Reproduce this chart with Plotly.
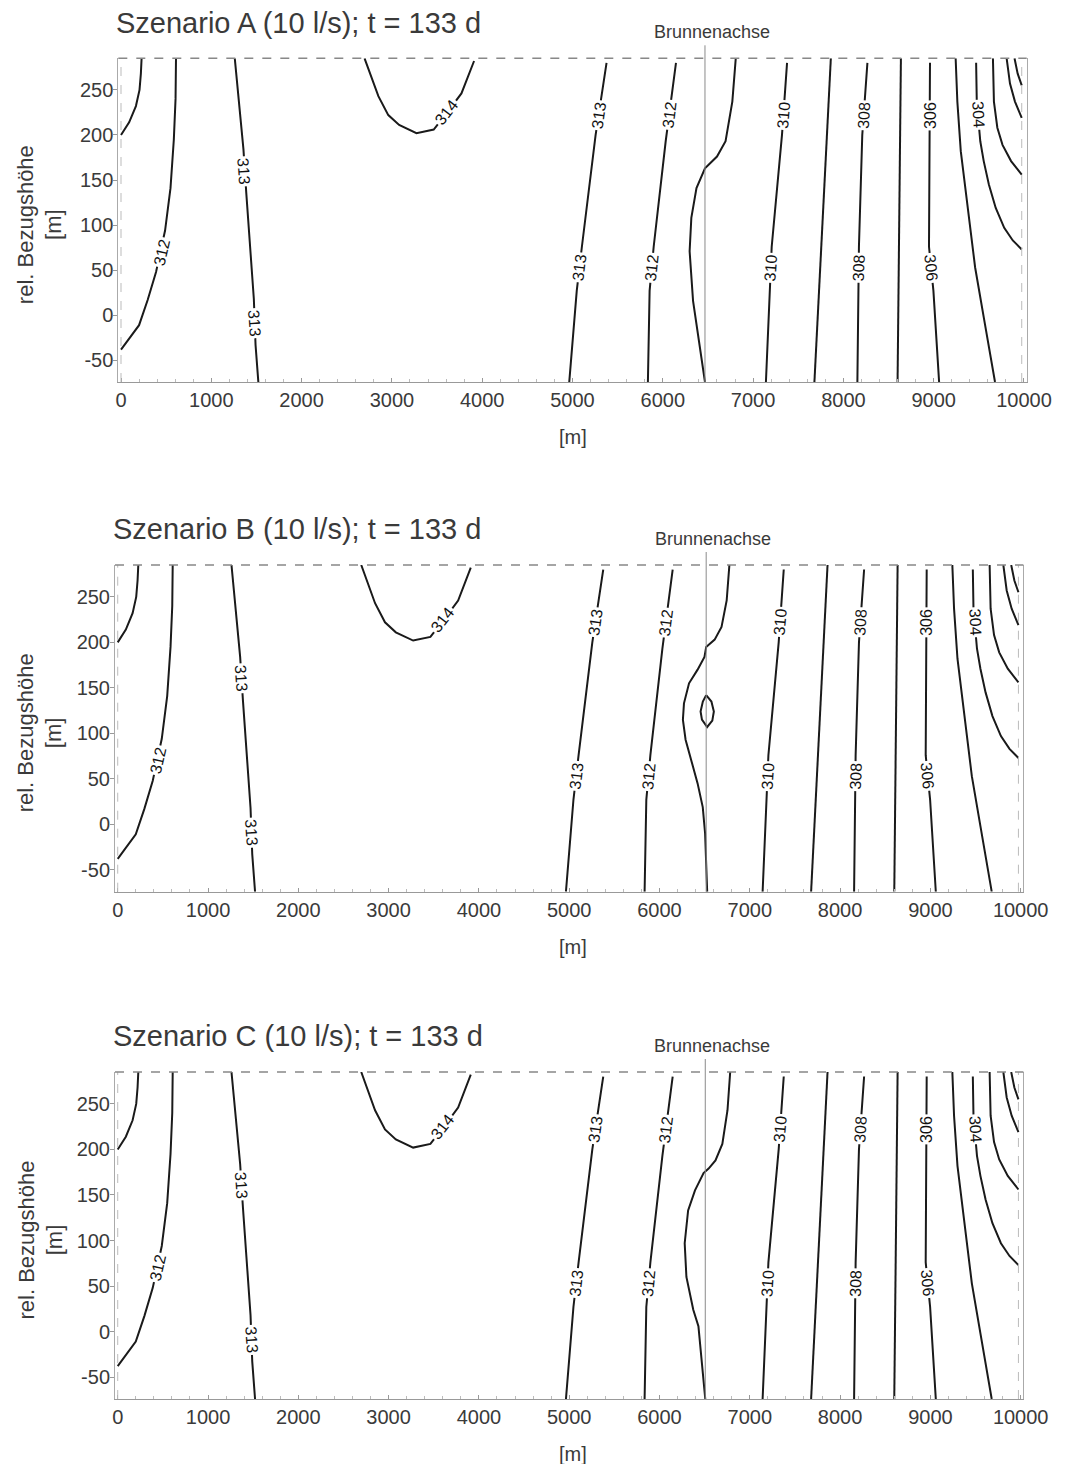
import plotly.graph_objects as go

# page offset (default body margin of the html page)
OFF = 8
W, H = 1067 - OFF, 1464 - OFF

# ---------------- data ----------------
PANEL_TITLES = ["Szenario A (10 l/s); t = 133 d",
                "Szenario B (10 l/s); t = 133 d",
                "Szenario C (10 l/s); t = 133 d"]
X_TICKS = [0, 1000, 2000, 3000, 4000, 5000, 6000, 7000, 8000, 9000, 10000]
X_TICK_TEXT = ["0", "1000", "2000", "3000", "4000", "5000", "6000", "7000", "8000", "9000", "10000"]
Y_TICKS = [-50, 0, 50, 100, 150, 200, 250]
Y_TICK_TEXT = ["-50", "0", "50", "100", "150", "200", "250"]
X_RANGE = [-30, 10030]
Y_RANGE = [-74, 285]
DOMAIN_X = [0, 9975]          # model domain boundaries (dashed)
WELL_X = [6467, 6517, 6507]   # "Brunnenachse" per scenario

# contour lines common to all three scenarios (x [m], y [m])
C311L_X = [0, 90, 165, 205, 220, 228]
C311L_Y = [200, 214, 232, 250, 268, 285]
C312L_X = [0, 200, 295, 388, 488, 548, 585, 604, 609]
C312L_Y = [-38, -11, 17, 48, 94, 141, 195, 240, 285]
C313L_X = [1260, 1356, 1387, 1471, 1490, 1521]
C313L_Y = [285, 184, 136, 18, -33, -74]
C314_X = [2697, 2850, 2960, 3080, 3272, 3463, 3636, 3770, 3910]
C314_Y = [285, 243, 222, 211, 202, 206, 228, 246, 282]
C313R_X = [5377, 5312, 5256, 5104, 5047, 4964]
C313R_Y = [280, 237, 200, 76, 27, -74]
C312R_X = [6146, 6089, 6032, 5899, 5854, 5835]
C312R_Y = [280, 237, 193, 76, 27, -74]
C310_X = [7376, 7320, 7206, 7142]
C310_Y = [280, 200, 76, -74]
C309_X = [7861, 7679]
C309_Y = [285, -74]
C308_X = [8266, 8209, 8172, 8155]
C308_Y = [280, 200, 76, -74]
C307_X = [8637, 8600]
C307_Y = [285, -74]
C306_X = [8959, 8955, 8948, 8997, 9060]
C306_Y = [280, 200, 76, 27, -74]
C305_X = [9243, 9262, 9300, 9365, 9459, 9554, 9679]
C305_Y = [285, 237, 182, 127, 53, -2, -74]
C304_X = [9470, 9477, 9516, 9554, 9611, 9687, 9781, 9876, 9975]
C304_Y = [280, 237, 193, 171, 145, 119, 97, 83, 73]
C303_X = [9656, 9667, 9705, 9762, 9857, 9975]
C303_Y = [285, 237, 208, 189, 171, 156]
C302_X = [9808, 9845, 9900, 9975]
C302_Y = [285, 257, 237, 219]
C301_X = [9895, 9930, 9975]
C301_Y = [285, 268, 255]

# 311 m contour near the well axis, per scenario
A311_X = [6808, 6770, 6695, 6600, 6467, 6373, 6316, 6297, 6335, 6392, 6467]
A311_Y = [285, 237, 193, 176, 163, 141, 108, 71, 16, -21, -74]
B311_X = [6774, 6744, 6687, 6611, 6517, 6498, 6422, 6327, 6271, 6259, 6289, 6346, 6422, 6479, 6505, 6528]
B311_Y = [285, 246, 217, 203, 195, 184, 170, 155, 133, 115, 93, 71, 45, 19, -10, -74]
B_LOOP_X = [6517, 6575, 6602, 6585, 6528, 6470, 6455, 6480, 6517]
B_LOOP_Y = [142, 135, 124, 114, 107, 115, 124, 135, 142]
C311_X = [6783, 6753, 6696, 6620, 6544, 6488, 6393, 6317, 6279, 6298, 6374, 6431, 6507]
C311_Y = [285, 243, 206, 188, 179, 174, 155, 133, 97, 60, 24, 6, -74]

# contour labels: text, x, y, rotation
LABEL_TEXT = ["312", "313", "313", "314", "313", "313", "312", "312",
              "310", "310", "308", "308", "306", "306", "304"]
LABEL_X = [450, 1364, 1480, 3600, 5289, 5077, 6070, 5878,
           7335, 7196, 8225, 8170, 8957, 8971, 9500]
LABEL_Y = [70, 160, -9, 225, 222, 53, 222, 53,
           222, 53, 222, 53, 222, 53, 222]
LABEL_ANGLE = [-77, 86, 86, -52, -82, -83, -83, -84,
               -85, -86, -87, -88, -90, 84, 87]

# ---------------- layout geometry (reference pixels) ----------------
PLOT_LEFT = [118.3, 115, 115]
PLOT_RIGHT = [1026.7, 1023.4, 1023.4]
PLOT_TOP = [58.3, 565, 1072]
PLOT_BOTTOM = [382, 891.7, 1399]
TITLE_Y = [23, 529, 1036]

FONT = "Arial, Liberation Sans, sans-serif"
TXT = "#3a3a3a"
LINE = "#1a1a1a"

common_lines = [(C311L_X, C311L_Y), (C312L_X, C312L_Y), (C313L_X, C313L_Y),
                (C314_X, C314_Y), (C313R_X, C313R_Y), (C312R_X, C312R_Y),
                (C310_X, C310_Y), (C309_X, C309_Y), (C308_X, C308_Y),
                (C307_X, C307_Y), (C306_X, C306_Y), (C305_X, C305_Y),
                (C304_X, C304_Y), (C303_X, C303_Y), (C302_X, C302_Y),
                (C301_X, C301_Y)]
panel_lines = [[(A311_X, A311_Y)],
               [(B311_X, B311_Y), (B_LOOP_X, B_LOOP_Y)],
               [(C311_X, C311_Y)]]

fig = go.Figure()
annotations = []
shapes = []
layout_axes = {}


def px2x(px):
    return (px - OFF) / W


def py2y(py):
    return 1 - (py - OFF) / H


for p in range(3):
    sfx = "" if p == 0 else str(p + 1)
    xa, ya = "x" + sfx, "y" + sfx
    for lx, ly in common_lines + panel_lines[p]:
        fig.add_trace(go.Scatter(x=lx, y=ly, mode="lines", xaxis=xa, yaxis=ya,
                                 line=dict(color=LINE, width=2), showlegend=False,
                                 hoverinfo="skip"))
    layout_axes["xaxis" + sfx] = dict(
        domain=[px2x(PLOT_LEFT[p]), px2x(PLOT_RIGHT[p])], anchor=ya,
        range=X_RANGE, tickvals=X_TICKS, ticktext=X_TICK_TEXT, ticks="inside", ticklen=4,
        tickcolor="#999", showline=True, linecolor="#999", linewidth=1,
        mirror=False, showgrid=False, zeroline=False,
        tickfont=dict(family=FONT, size=20, color=TXT), ticklabelstandoff=0,
        minor=dict(dtick=200, ticks="inside", ticklen=3, tickcolor="#bbb", showgrid=False),
        automargin=False)
    layout_axes["yaxis" + sfx] = dict(
        domain=[py2y(PLOT_BOTTOM[p]), py2y(PLOT_TOP[p])], anchor=xa,
        range=Y_RANGE, tickvals=Y_TICKS, ticktext=Y_TICK_TEXT, ticks="outside", ticklen=4,
        tickcolor="#999", showline=True, linecolor="#aaa", linewidth=1,
        mirror=True, showgrid=False, zeroline=False,
        tickfont=dict(family=FONT, size=20, color=TXT), ticklabelstandoff=-4,
        automargin=False)

    # dashed boundaries of the model domain and top edge
    for bx in DOMAIN_X:
        shapes.append(dict(type="line", xref=xa, yref=ya + " domain", x0=bx, x1=bx,
                           y0=0, y1=1, line=dict(color="#bbb", width=1, dash="dash")))
    shapes.append(dict(type="line", xref=xa + " domain", yref=ya + " domain", x0=0, x1=1,
                       y0=1, y1=1, line=dict(color="#888", width=1.5, dash="dash")))
    # well axis
    shapes.append(dict(type="line", xref=xa, yref="paper", x0=WELL_X[p], x1=WELL_X[p],
                       y0=py2y(PLOT_BOTTOM[p]), y1=py2y(PLOT_TOP[p] - 13),
                       line=dict(color="#8a8a8a", width=1)))
    annotations.append(dict(text="Brunnenachse", xref=xa, yref="paper", x=WELL_X[p],
                            y=py2y(PLOT_TOP[p] - 26), xshift=7, showarrow=False,
                            xanchor="center", yanchor="middle",
                            font=dict(family=FONT, size=18, color=TXT)))
    # titles
    annotations.append(dict(text=PANEL_TITLES[p], xref="paper", yref="paper",
                            x=px2x(PLOT_LEFT[p] - 4), y=py2y(TITLE_Y[p]), showarrow=False,
                            xanchor="left", yanchor="middle",
                            font=dict(family=FONT, size=29, color=TXT)))
    # y-axis title
    annotations.append(dict(text="rel. Bezugshöhe<br>[m]", xref="paper", yref="paper",
                            x=px2x(40), y=py2y((PLOT_TOP[p] + PLOT_BOTTOM[p]) / 2 + 5),
                            showarrow=False, textangle=-90, xanchor="center",
                            yanchor="middle",
                            font=dict(family=FONT, size=22, color=TXT)))
    # x-axis title
    annotations.append(dict(text="[m]", xref="paper", yref="paper",
                            x=px2x(573), y=py2y(PLOT_BOTTOM[p] + 55),
                            showarrow=False, xanchor="center", yanchor="middle",
                            font=dict(family=FONT, size=20, color=TXT)))
    # contour labels
    for t, lx, ly, la in zip(LABEL_TEXT, LABEL_X, LABEL_Y, LABEL_ANGLE):
        annotations.append(dict(text=t, xref=xa, yref=ya, x=lx, y=ly, showarrow=False,
                                textangle=la, bgcolor="white", borderpad=1,
                                font=dict(family=FONT, size=16, color="#111")))

fig.update_layout(width=W, height=H, autosize=False,
                  margin=dict(l=0, r=0, t=0, b=0),
                  paper_bgcolor="white", plot_bgcolor="white",
                  annotations=annotations, shapes=shapes, **layout_axes)

fig.write_html("out.html")
